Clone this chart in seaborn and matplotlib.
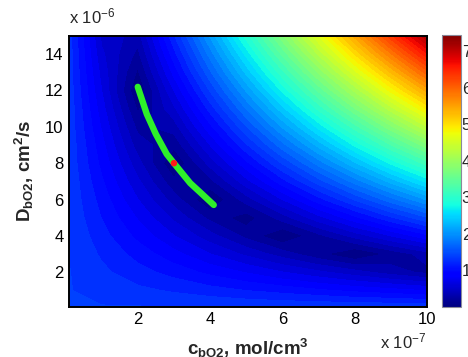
import matplotlib
matplotlib.use("Agg")
import matplotlib.pyplot as plt
import numpy as np
import seaborn as sns
from matplotlib.cm import ScalarMappable
from matplotlib.colors import Normalize

# ---- data ----
# grid coordinates: c in units of 1e-7 mol/cm3, D in units of 1e-6 cm2/s
c_grid = [0.1, 1, 2, 3, 4, 5, 6, 7, 8, 9, 10]
D_grid = [0.1, 1, 2, 3, 4, 5, 6, 7, 8, 9, 10, 11, 12, 13, 14, 15]
# field values (rows follow D_grid, columns follow c_grid)
field = [
    [1.37, 1.36, 1.36, 1.35, 1.35, 1.34, 1.33, 1.33, 1.32, 1.32, 1.31],
    [1.36, 1.31, 1.25, 1.20, 1.14, 1.08, 1.03, 0.97, 0.91, 0.86, 0.80],
    [1.36, 1.25, 1.14, 1.03, 0.91, 0.80, 0.68, 0.57, 0.46, 0.34, 0.23],
    [1.35, 1.20, 1.03, 0.86, 0.68, 0.51, 0.34, 0.17, 0.00, 0.17, 0.34],
    [1.35, 1.14, 0.91, 0.68, 0.46, 0.23, 0.00, 0.23, 0.46, 0.68, 0.91],
    [1.34, 1.08, 0.80, 0.51, 0.23, 0.06, 0.34, 0.63, 0.91, 1.20, 1.48],
    [1.33, 1.03, 0.68, 0.34, 0.00, 0.34, 0.68, 1.03, 1.37, 1.71, 2.05],
    [1.33, 0.97, 0.57, 0.17, 0.23, 0.63, 1.03, 1.43, 1.82, 2.22, 2.62],
    [1.32, 0.91, 0.46, 0.00, 0.46, 0.91, 1.37, 1.82, 2.28, 2.74, 3.19],
    [1.32, 0.86, 0.34, 0.17, 0.68, 1.20, 1.71, 2.22, 2.74, 3.25, 3.76],
    [1.31, 0.80, 0.23, 0.34, 0.91, 1.48, 2.05, 2.62, 3.19, 3.76, 4.33],
    [1.31, 0.74, 0.11, 0.51, 1.14, 1.77, 2.39, 3.02, 3.65, 4.28, 4.90],
    [1.30, 0.68, 0.00, 0.68, 1.37, 2.05, 2.74, 3.42, 4.10, 4.79, 5.47],
    [1.29, 0.63, 0.11, 0.86, 1.60, 2.34, 3.08, 3.82, 4.56, 5.30, 6.04],
    [1.29, 0.57, 0.23, 1.03, 1.82, 2.62, 3.42, 4.22, 5.02, 5.81, 6.61],
    [1.28, 0.51, 0.34, 1.20, 2.05, 2.91, 3.76, 4.62, 5.47, 6.33, 7.18],
]
cbar_max = 7.45
cbar_ticks = [1, 2, 3, 4, 5, 6, 7]

# green curve and red point
curve_c = [2.0, 2.25, 2.5, 2.8, 3.0, 3.45, 3.75, 4.1]
curve_D = [12.2, 10.7, 9.6, 8.5, 8.0, 6.9, 6.35, 5.7]
point_c = [3.0]
point_D = [8.0]

x_ticks = [2, 4, 6, 8, 10]
y_ticks = [2, 4, 6, 8, 10, 12, 14]

# ---- style ----
sns.set_style("white")
plt.rcParams["font.family"] = ["Liberation Sans", "DejaVu Sans"]
plt.rcParams["mathtext.fontset"] = "custom"
plt.rcParams["mathtext.rm"] = "Liberation Sans"
plt.rcParams["mathtext.bf"] = "Liberation Sans:bold"
plt.rcParams["mathtext.it"] = "Liberation Sans:italic"
plt.rcParams["mathtext.default"] = "regular"

fig = plt.figure(figsize=(4.68, 3.57), dpi=100)
ax = fig.add_axes([0.1474, 0.1409, 0.7656, 0.7583])

levels = np.linspace(0, cbar_max, 56)
ax.contourf(c_grid, D_grid, np.array(field), levels=levels, cmap="jet",
            vmin=0, vmax=cbar_max)

sns.lineplot(x=curve_c, y=curve_D, ax=ax, color="#2ef02a", linewidth=4.6,
             sort=False, solid_capstyle="round", zorder=5)
sns.scatterplot(x=point_c, y=point_D, ax=ax, color="#ff1a1a", s=22,
                edgecolor="none", zorder=6)

ax.set_xlim(0.1, 10)
ax.set_ylim(0.1, 15)
ax.set_xticks(x_ticks)
ax.set_yticks(y_ticks)
ax.set_xticklabels([str(t) for t in x_ticks])
ax.set_yticklabels([str(t) for t in y_ticks])
ax.tick_params(direction="in", length=3.5, width=1.2, labelsize=12,
               top=True, right=True, pad=4, colors="black")
for s in ax.spines.values():
    s.set_linewidth(1.4)
    s.set_color("black")

ax.set_xlabel("c$_\\mathbf{bO2}$, mol/cm$^\\mathbf{3}$", fontsize=13.5,
              fontweight="bold", labelpad=7)
ax.set_ylabel("D$_\\mathbf{bO2}$, cm$^\\mathbf{2}$/s", fontsize=13.5,
              fontweight="bold", labelpad=6)

fig.text(0.148, 0.925, "x 10$^{-6}$", fontsize=12, ha="left", va="bottom")
fig.text(0.812, 0.015, "x 10$^{-7}$", fontsize=12, ha="left", va="bottom")

cax = fig.add_axes([0.9438, 0.1409, 0.0406, 0.761])
sm = ScalarMappable(norm=Normalize(0, cbar_max), cmap="jet")
cb = fig.colorbar(sm, cax=cax)
cb.set_ticks(cbar_ticks)
cb.ax.tick_params(length=0, labelsize=12, pad=0.8)
cb.outline.set_edgecolor("#8a8a9a")
cb.outline.set_linewidth(0.8)

fig.savefig("out.png", dpi=100)
